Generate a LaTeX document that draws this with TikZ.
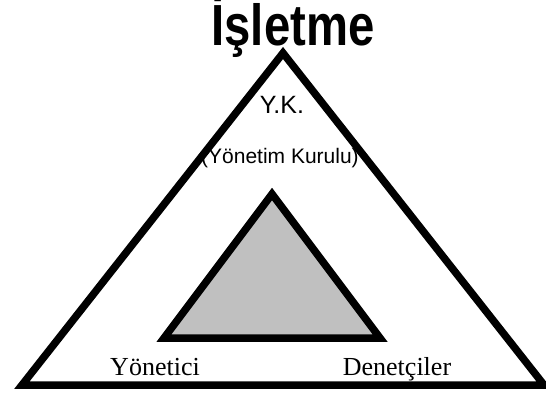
\documentclass[tikz,border=0pt]{standalone}
\usepackage{fontspec}
\setmainfont{Liberation Serif}
\setsansfont{Liberation Sans}
\definecolor{icgri}{RGB}{192,192,192}

\begin{document}
\begin{tikzpicture}[x=1pt,y=-1pt,line width=7.5pt,line join=miter]
  \useasboundingbox (0,0) rectangle (546,396);
  % dis ucgen
  \coordinate (dtepe) at (283,53);
  \coordinate (dsol) at (22,385);
  \coordinate (dsag) at (544,385);
  \draw (dtepe)--(dsol)--(dsag)--cycle;
  % ic ucgen
  \coordinate (itepe) at (272,194);
  \coordinate (isol) at (164,338);
  \coordinate (isag) at (380,338);
  \draw[fill=icgri] (itepe)--(isol)--(isag)--cycle;
  % baslik
  \node[anchor=base,inner sep=0pt,font=\sffamily\bfseries\fontsize{58}{60}\selectfont,xscale=0.815,transform shape] (isletme) at (293,46) {İşletme};
  % yazilar
  \node[anchor=base,inner sep=0pt,font=\sffamily\fontsize{25}{27}\selectfont] (yk) at (282,113) {Y.K.};
  \node[anchor=base,inner sep=0pt,font=\sffamily\fontsize{21}{23}\selectfont] (kurul) at (280,163) {(Yönetim Kurulu)};
  \node[anchor=base,inner sep=0pt,font=\fontsize{26}{28}\selectfont] (yonetici) at (155,375) {Yönetici};
  \node[anchor=base,inner sep=0pt,font=\fontsize{26}{28}\selectfont] (denetci) at (397,375) {Denetçiler};
\end{tikzpicture}
\end{document}
